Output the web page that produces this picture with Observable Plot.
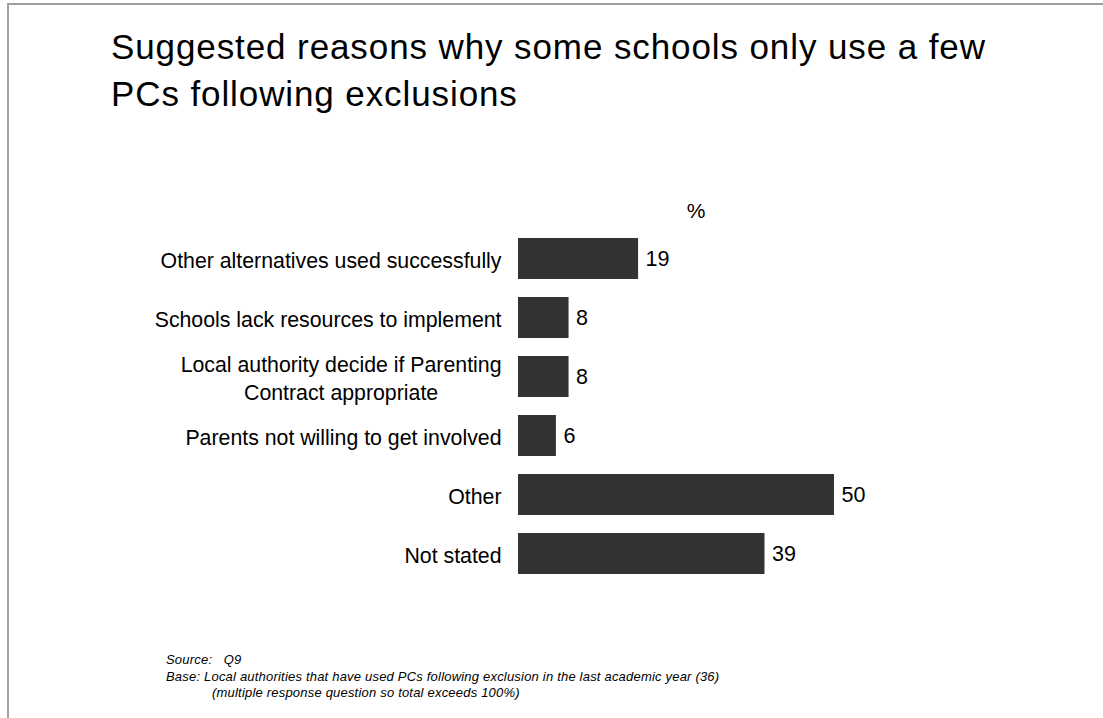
<!DOCTYPE html>
<html>
<head>
<meta charset="utf-8">
<script src="https://cdn.jsdelivr.net/npm/d3@7"></script>
<script src="https://cdn.jsdelivr.net/npm/@observablehq/plot@0.6"></script>
<style>
  html, body { margin: 0; padding: 0; background: #fff; }
  body { width: 1103px; height: 718px; position: relative; overflow: hidden; font-family: "Liberation Sans", Arial, sans-serif; color: #000; }
  #frame { position: absolute; left: 7px; top: 3px; width: 1200px; height: 800px; border-left: 2px solid #a0a0a0; border-top: 2px solid #a0a0a0; }
  #title { position: absolute; left: 111px; top: 23px; font-size: 35px; line-height: 47px; letter-spacing: 0.9px; white-space: nowrap; }
  #unit { position: absolute; left: 696px; top: 200px; transform: translateX(-50%); font-size: 21px; line-height: 21px; }
  #chart { position: absolute; left: 0; top: 190px; }
  #foot { position: absolute; left: 166px; top: 652px; font-size: 13px; line-height: 16.5px; font-style: italic; letter-spacing: 0.2px; white-space: nowrap; }
  #foot .ind { padding-left: 46px; }
</style>
</head>
<body>
<div id="frame"></div>
<div id="title">Suggested reasons why some schools only use a few<br>PCs following exclusions</div>
<div id="unit">%</div>
<div id="chart"></div>
<div id="foot">
  <div>Source:&nbsp;&nbsp; Q9</div>
  <div>Base: Local authorities that have used PCs following exclusion in the last academic year (36)</div>
  <div class="ind">(multiple response question so total exceeds 100%)</div>
</div>
<script>
const categories = [
  "Other alternatives used successfully",
  "Schools lack resources to implement",
  "Local authority decide if Parenting\nContract appropriate",
  "Parents not willing to get involved",
  "Other",
  "Not stated"
];
const values = [19, 8, 8, 6, 50, 39];

const data = categories.map((c, i) => ({label: c, value: values[i]}));

const chart = Plot.plot({
  width: 1103,
  height: 420,
  marginTop: 28,
  marginBottom: 16.5,
  marginLeft: 518,
  marginRight: 79.4,
  style: {fontFamily: "Liberation Sans, Arial, sans-serif", fontSize: "21px", color: "#000", background: "transparent"},
  x: {domain: [0, 80], axis: null},
  y: {domain: categories, padding: 0.3, axis: null},
  marks: [
    Plot.barX(data, {x: "value", y: "label", fill: "#333333"}),
    Plot.text(data, {x: "value", y: "label", text: d => String(d.value), dx: 7, textAnchor: "start", fontSize: 21.5, fill: "#000"}),
    Plot.axisY({tickSize: 0, tickPadding: 17, fontSize: 21.3, lineHeight: 1.3, label: null, fill: "#000", style: {letterSpacing: "0.4px"}})
  ]
});
document.getElementById("chart").appendChild(chart);

// center multi-line category labels like the original
chart.querySelectorAll('g[aria-label="y-axis tick label"] text').forEach(t => {
  const spans = t.querySelectorAll("tspan");
  if (spans.length > 1) {
    const bb = t.getBBox();
    const cx = bb.x + bb.width / 2;
    t.setAttribute("text-anchor", "middle");
    spans.forEach(s => s.setAttribute("x", cx));
  }
});
</script>
</body>
</html>
